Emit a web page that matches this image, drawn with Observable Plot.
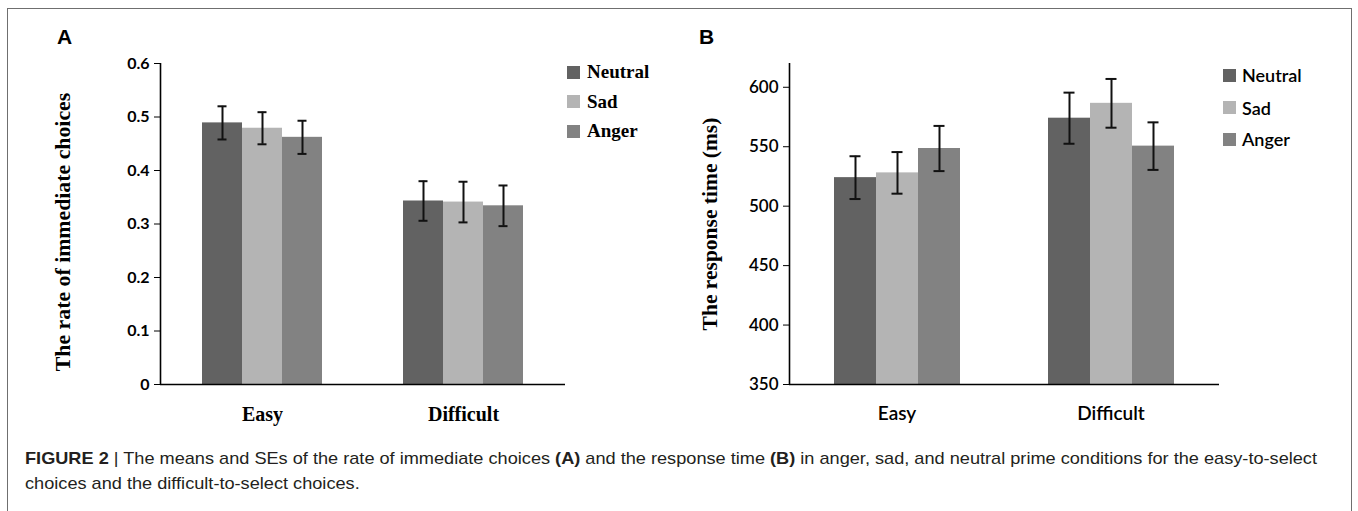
<!DOCTYPE html>
<html>
<head>
<meta charset="utf-8">
<script src="https://cdn.jsdelivr.net/npm/d3@7"></script>
<script src="https://cdn.jsdelivr.net/npm/@observablehq/plot@0.6"></script>
<style>
  html, body { margin: 0; padding: 0; background: #fff; }
  #fig { position: relative; width: 1358px; height: 511px; overflow: hidden; background: #fff; }
  .box { position: absolute; left: 7px; top: 8px; width: 1345px; height: 540px; border: 1.5px solid #6f6f6f; border-bottom: none; box-sizing: border-box; }
  .panel { position: absolute; top: 0; height: 440px; }
  .panel svg { position: absolute; left: 0; top: 0; overflow: visible; }
  .letter { position: absolute; font: bold 21px "Liberation Sans", Arial, sans-serif; line-height: 1; color: #000; }
  .leg { position: absolute; display: flex; align-items: center; white-space: nowrap; color: #000; }
  .sw { width: 13px; height: 13px; flex: none; }
  #caption { position: absolute; left: 25px; top: 446px; font-family: "Liberation Sans Narrow", "Arial Narrow", "Liberation Sans", sans-serif; font-size: 17px; line-height: 25px; white-space: nowrap; color: #231f20; transform-origin: 0 0; }
  #caption span { display: inline-block; }
</style>
</head>
<body>
<div id="fig">
  <div class="box"></div>
  <div class="panel" id="panelA" style="left:0;width:680px"></div>
  <div class="panel" id="panelB" style="left:680px;width:678px"></div>
  <div class="letter" style="left:57px;top:26px">A</div>
  <div class="letter" style="left:699px;top:26px">B</div>
  <div id="legendA"></div>
  <div id="legendB"></div>
  <div id="caption"><span id="cap1"><b>FIGURE 2</b> | The means and SEs of the rate of immediate choices <b>(A)</b> and the response time <b>(B)</b> in anger, sad, and neutral prime conditions for the easy-to-select</span><br><span>choices and the difficult-to-select choices.</span></div>
</div>
<script>
// ---- data ----
const conditions = ["Easy", "Difficult"];
const emotions = ["Neutral", "Sad", "Anger"];
const grays = ["#626262", "#b4b4b4", "#828282"];

// Panel A: rate of immediate choices (Easy N,S,A then Difficult N,S,A)
const rateMean = [0.489, 0.479, 0.462, 0.343, 0.341, 0.334];
const rateSE   = [0.031, 0.030, 0.031, 0.037, 0.038, 0.038];
const rateTicks = [0, 0.1, 0.2, 0.3, 0.4, 0.5, 0.6];

// Panel B: response time in ms
const rtMean = [524, 528, 548.5, 574, 586.5, 550.5];
const rtSE   = [18, 17.5, 19, 21.5, 20.5, 20];
const rtTicks = [350, 400, 450, 500, 550, 600];

function rows(means, ses) {
  const out = [];
  conditions.forEach((c, i) => emotions.forEach((e, j) => {
    const k = i * emotions.length + j;
    out.push({cond: c, emo: e, mean: means[k], lo: means[k] - ses[k], hi: means[k] + ses[k]});
  }));
  return out;
}

function panel(el, cfg) {
  const dims = {width: cfg.width, height: 440, marginTop: 63, marginBottom: 56, marginLeft: cfg.ml, marginRight: cfg.mr};
  const data = rows(cfg.means, cfg.ses);
  const bars = Plot.plot({
    ...dims,
    fx: {domain: conditions, paddingInner: 0.405, paddingOuter: 0.205, label: null},
    x: {domain: emotions, padding: 0, axis: null},
    y: {domain: cfg.domain, axis: null},
    color: {domain: emotions, range: grays},
    marks: [
      Plot.barY(data, {fx: "cond", x: "emo", y1: cfg.domain[0], y2: "mean", fill: "emo"}),
      Plot.ruleX(data, {fx: "cond", x: "emo", y1: "lo", y2: "hi", stroke: "#111", strokeWidth: 2}),
      Plot.tickY(data, {fx: "cond", x: "emo", y: "hi", stroke: "#111", strokeWidth: 2, insetLeft: 15.5, insetRight: 15.5}),
      Plot.tickY(data, {fx: "cond", x: "emo", y: "lo", stroke: "#111", strokeWidth: 2, insetLeft: 15.5, insetRight: 15.5}),
      Plot.axisFx({anchor: "bottom", tickSize: 0, tickPadding: cfg.fxPad, label: null,
        fontSize: cfg.fxSize, fontFamily: cfg.fxFont, fontWeight: cfg.fxWeight, fill: "#000"})
    ]
  });
  const axes = Plot.plot({
    ...dims,
    x: {domain: [0, 1], axis: null},
    y: {domain: cfg.domain},
    marks: [
      Plot.axisY({ticks: cfg.ticks, tickSize: 6, tickPadding: 5, label: null, tickFormat: cfg.fmt,
        fontSize: cfg.tickSize, fontFamily: "Lato", fontWeight: cfg.tickWeight, stroke: "#000", fill: "#000"}),
      Plot.ruleX([0], {stroke: "#000", strokeWidth: 1.6}),
      Plot.ruleY([cfg.domain[0]], {stroke: "#000", strokeWidth: 1.6}),
      Plot.text([cfg.title], {frameAnchor: "left", rotate: -90, dx: -cfg.titleOff, dy: cfg.titleDy,
        fontSize: cfg.titleSize, fontFamily: "Liberation Serif", fontWeight: "bold", fill: "#000", textAnchor: "middle", lineAnchor: "middle"})
    ]
  });
  el.appendChild(bars);
  el.appendChild(axes);
}

panel(document.getElementById("panelA"), {
  width: 680, ml: 160, mr: 115, domain: [0, 0.6], ticks: rateTicks,
  fmt: d => d === 0 ? "0" : d.toFixed(1), means: rateMean, ses: rateSE,
  tickSize: 16, tickWeight: "bold",
  fxPad: 22, fxSize: 20, fxFont: "Liberation Serif", fxWeight: "bold",
  title: "The rate of immediate choices", titleOff: 97, titleDy: 8, titleSize: 21.8
});
panel(document.getElementById("panelB"), {
  width: 678, ml: 109, mr: 139, domain: [350, 620], ticks: rtTicks,
  fmt: d => String(d), means: rtMean, ses: rtSE,
  tickSize: 17, tickWeight: 600,
  fxPad: 22, fxSize: 19, fxFont: "Lato", fxWeight: 600,
  title: "The response time (ms)", titleOff: 79, titleDy: 0, titleSize: 21.5
});

// ---- legends ----
function legend(id, left, tops, font, gap) {
  const host = document.getElementById(id);
  emotions.forEach((e, i) => {
    const d = document.createElement("div");
    d.className = "leg";
    d.style.left = left + "px";
    d.style.top = (tops[i] - 12) + "px";
    d.style.height = "24px";
    d.style.font = font;
    d.innerHTML = `<span class="sw" style="background:${grays[i]};margin-right:${gap}px"></span><span>${e}</span>`;
    host.appendChild(d);
  });
}
legend("legendA", 567, [72, 101.5, 131], 'bold 19px "Liberation Serif", serif', 7);
legend("legendB", 1223, [75, 107.5, 139], '600 18px Lato, sans-serif', 6);

// ---- caption: stretch to the reference line length (narrow face unavailable) ----
const cap = document.getElementById("caption");
const w1 = document.getElementById("cap1").getBoundingClientRect().width;
const targetWidth = 1292;
cap.style.transform = `scaleX(${targetWidth / w1})`;
</script>
</body>
</html>
